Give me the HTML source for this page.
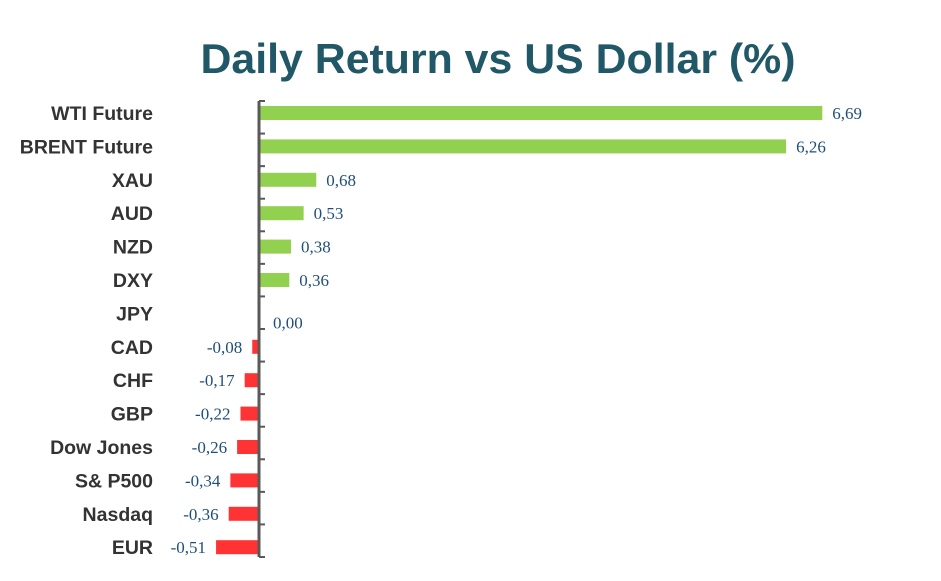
<!DOCTYPE html>
<html><head><meta charset="utf-8"><style>
html,body{margin:0;padding:0;background:#fff;}
svg{display:block;}
</style></head><body>
<svg id="chart" width="941" height="581" viewBox="0 0 941 581" xmlns="http://www.w3.org/2000/svg">
<text x="498" y="73" text-anchor="middle" font-family="Liberation Sans, sans-serif" font-weight="bold" font-size="42" fill="#215868" textLength="595" lengthAdjust="spacingAndGlyphs">Daily Return vs US Dollar (%)</text>
<g id="bars"></g>
<g id="axis"></g>
</svg>
<script>
const categories = ["WTI Future","BRENT Future","XAU","AUD","NZD","DXY","JPY","CAD","CHF","GBP","Dow Jones","S& P500","Nasdaq","EUR"];
const values = [6.69,6.26,0.68,0.53,0.38,0.36,0.00,-0.08,-0.17,-0.22,-0.26,-0.34,-0.36,-0.51];
const valueLabels = ["6,69","6,26","0,68","0,53","0,38","0,36","0,00","-0,08","-0,17","-0,22","-0,26","-0,34","-0,36","-0,51"];

const NS = "http://www.w3.org/2000/svg";
const x0 = 259, pxPerUnit = 84.2;
function xScale(v){ return x0 + v*pxPerUnit; }
function yCenter(i){ return 113 + i*33.4; }
const barsG = document.getElementById('bars');
const axisG = document.getElementById('axis');
function mk(tag, attrs){ const e=document.createElementNS(NS,tag); for(const k in attrs) e.setAttribute(k,attrs[k]); return e; }

categories.forEach((c,i)=>{
  const v = values[i];
  const yc = yCenter(i);
  const xa = xScale(Math.min(0,v)), xb = xScale(Math.max(0,v));
  if (v !== 0) {
    const r = mk('rect',{x:xa,y:yc-7,width:xb-xa,height:14,fill: v>0 ? '#92d050' : '#ff3333'});
    
    
    barsG.appendChild(r);
  }
  const lab = mk('text',{y:yc+6,'font-family':'Liberation Serif, serif','font-size':'17',fill:'#1f4e79'});
  if (v > 0) { lab.setAttribute('x', xb+10); }
  else if (v < 0) { lab.setAttribute('x', xa-10); lab.setAttribute('text-anchor','end'); }
  else { lab.setAttribute('x', x0+14); lab.setAttribute('y', yc+15); }
  lab.textContent = valueLabels[i];
  
  
  barsG.appendChild(lab);
  const cat = mk('text',{x:153,y:yc+7,'text-anchor':'end','font-family':'Liberation Sans, sans-serif','font-weight':'bold','font-size':'19.5',fill:'#333'});
  cat.textContent = c;
  
  
  axisG.appendChild(cat);
});
const yTop = 101, yBottom = 557;
const axisLine = mk('line',{x1:x0,y1:yTop,x2:x0,y2:yBottom,stroke:'#595959','stroke-width':3});


axisG.appendChild(axisLine);
const step = (yBottom-yTop)/categories.length;
for (let k=0;k<=categories.length;k++){
  const t = mk('line',{x1:x0,y1:yTop+k*step,x2:x0+6,y2:yTop+k*step,stroke:'#595959','stroke-width':2});
  
  
  axisG.appendChild(t);
}
</script>
</body></html>
